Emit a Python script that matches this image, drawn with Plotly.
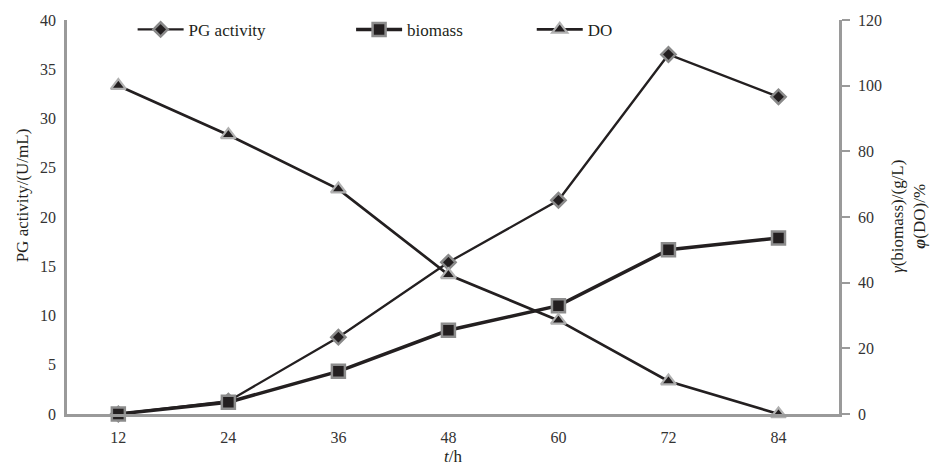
import plotly.graph_objects as go

time_h = [12, 24, 36, 48, 60, 72, 84]
pg_activity = [0.0, 1.3, 7.8, 15.4, 21.7, 36.5, 32.2]
biomass = [0.0, 3.6, 13.0, 25.5, 33.0, 50.0, 53.6]
do_pct = [100.0, 85.0, 68.5, 42.4, 28.5, 10.0, 0.0]
left_ticks = [0, 5, 10, 15, 20, 25, 30, 35, 40]
right_ticks = [0, 20, 40, 60, 80, 100, 120]

FONT = "Liberation Serif, Times New Roman, DejaVu Serif, serif"
INK = "#231f20"
AXIS = "#9a9a9a"

fig = go.Figure()
fig.add_trace(go.Scatter(
    x=time_h, y=pg_activity, name="PG activity", mode="lines+markers",
    line=dict(color=INK, width=2.3),
    marker=dict(symbol="diamond", size=11, color=INK, line=dict(color="#8a8a8a", width=2.5)),
    cliponaxis=False, legend="legend2"))
fig.add_trace(go.Scatter(
    x=time_h, y=biomass, name="biomass", mode="lines+markers", yaxis="y2",
    line=dict(color=INK, width=3.5),
    marker=dict(symbol="square", size=13, color=INK, line=dict(color="#8c8c8c", width=2.5)),
    cliponaxis=False, legend="legend3"))
fig.add_trace(go.Scatter(
    x=time_h, y=do_pct, name="DO", mode="lines+markers", yaxis="y2",
    line=dict(color=INK, width=2.7),
    marker=dict(symbol="triangle-up", size=13, color=INK, line=dict(color="#b0b0b0", width=2.2)),
    cliponaxis=False, legend="legend4"))

legend_common = dict(orientation="h", yanchor="middle", y=0.975, xanchor="left",
                     bgcolor="rgba(0,0,0,0)", font=dict(family=FONT, size=17, color=INK),
                     itemwidth=46)
fig.update_layout(
    width=933, height=471,
    margin=dict(l=67, r=94, t=18, b=57),
    paper_bgcolor="white", plot_bgcolor="white",
    font=dict(family=FONT, size=16, color="#333333"),
    showlegend=True,
    legend2=dict(x=0.085, **legend_common),
    legend3=dict(x=0.368, **legend_common),
    legend4=dict(x=0.602, **legend_common),
    xaxis=dict(range=[6.4, 90.6], tickvals=time_h, ticktext=[str(t) for t in time_h],
               showline=True, linecolor=AXIS, linewidth=2.5, showgrid=False, zeroline=False,
               automargin=False,
               ticks="", ticklabelstandoff=7, tickfont=dict(family=FONT, size=16, color="#333333"),
               title=dict(text="<i>t</i>/h", font=dict(family=FONT, size=17, color=INK), standoff=6)),
    yaxis=dict(range=[0, 40], tickvals=left_ticks, showline=True, linecolor=AXIS, linewidth=2.5,
               showgrid=False, zeroline=False, ticks="", ticklabelstandoff=5, automargin=False,
               tickfont=dict(family=FONT, size=16, color="#333333")),
    yaxis2=dict(range=[0, 120], tickvals=right_ticks, overlaying="y", side="right",
                showline=True, linecolor=AXIS, linewidth=2.5, showgrid=False, zeroline=False,
                ticks="outside", ticklen=8, tickwidth=2, tickcolor=AXIS, ticklabelstandoff=5,
                automargin=False,
                tickfont=dict(family=FONT, size=16, color="#333333")),
    annotations=[
        dict(text="PG activity/(U/mL)", xref="paper", yref="paper", x=0, y=0.555,
             xanchor="center", yanchor="middle", xshift=-45, textangle=-90, showarrow=False,
             font=dict(family=FONT, size=17, color=INK)),
        dict(text="<i>γ</i>(biomass)/(g/L)<br><b><i>φ</i></b>(DO)/%", xref="paper", yref="paper",
             x=1, y=0.5, xanchor="center", yanchor="middle", xshift=69, textangle=-90,
             showarrow=False, font=dict(family=FONT, size=17, color=INK)),
    ],
)

fig.write_html("out.html", config={"displayModeBar": False},
               post_script="document.body.style.margin='0';")
